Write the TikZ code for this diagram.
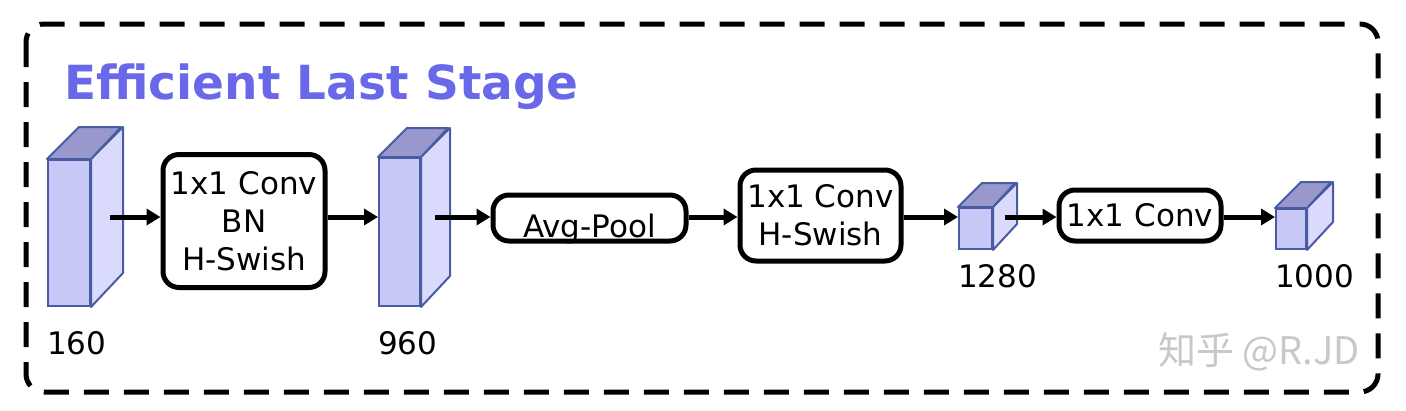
\documentclass[tikz,border=0pt]{standalone}
\usepackage{fontspec}
\setmainfont{DejaVu Sans}
\newfontfamily\cjkfont{Noto Sans CJK SC}
\usetikzlibrary{arrows.meta,positioning}

\definecolor{titleblue}{RGB}{104,104,232}
\definecolor{fmfill}{RGB}{200,200,246}
\definecolor{fmlight}{RGB}{218,218,252}
\definecolor{fmdark}{RGB}{152,152,204}
\definecolor{fmedge}{RGB}{72,92,164}
\definecolor{wmgray}{RGB}{200,200,200}

% feature map as a cuboid: name, left, top, width, height, depth
\newcommand{\fmap}[6]{%
  \node[fmfront, anchor=north west, minimum width=#4pt, minimum height=#5pt] (#1) at (#2,#3) {};
  \filldraw[fmside] (#1.north east) -- ++(#6,-#6) -- ++(0,#5) -- (#1.south east) -- cycle;
  \filldraw[fmtop] (#1.north west) -- ++(#6,-#6) -- ++(#4,0) -- (#1.north east) -- cycle;
}

\begin{document}
\begin{tikzpicture}[x=1pt, y=-1pt, font=\fontsize{31}{38}\selectfont,
  frame/.style={line width=5pt, dash pattern=on 25pt off 15pt, rounded corners=18pt},
  opbox/.style={draw, line width=5pt, rounded corners=16pt, fill=white, align=center, inner sep=0pt},
  flow/.style={line width=5pt, -{Triangle[length=14pt,width=16pt]}},
  fmfront/.style={draw=fmedge, fill=fmfill, line width=2pt, inner sep=0pt},
  fmside/.style={draw=fmedge, fill=fmlight, line width=2pt, line join=round},
  fmtop/.style={draw=fmedge, fill=fmdark, line width=2pt, line join=round},
  dimlabel/.style={anchor=base west, inner sep=0pt},
  wmark/.style={text=wmgray, font=\cjkfont\fontsize{38}{44}\selectfont, anchor=base east, inner sep=0pt}]

  % Canvas
  \useasboundingbox (0,0) rectangle (1406,410);
  \fill[white] (0,0) rectangle (1406,410);

  % Dashed frame and title
  \draw[frame] (26,24) rectangle (1378,392);
  \node[anchor=base west, inner sep=0pt, text=titleblue, font=\fontsize{47}{56}\selectfont\bfseries] (title) at (64,99) {Efficient Last Stage};

  % Feature maps
  \fmap{c160}{47}{159}{42}{146}{32}
  \fmap{c960}{378}{157}{41}{148}{29}
  \fmap{c1280}{958}{207}{33}{41}{24}
  \fmap{c1000}{1275}{208}{30}{40}{26}

  % Channel counts
  \node[dimlabel] (l160) at ([yshift=-47pt]c160.south west) {160};
  \node[dimlabel] (l960) at ([yshift=-47pt]c960.south west) {960};
  \node[dimlabel] (l1280) at ([yshift=-37pt]c1280.south west) {1280};
  \node[dimlabel] (l1000) at ([yshift=-37pt]c1000.south west) {1000};

  % Operations
  \node[opbox, minimum width=162pt, minimum height=133pt] (b1) at (244,221) {1x1 Conv\\BN\\H-Swish};
  \node[opbox, minimum width=193pt, minimum height=46pt] (pool) at (589.5,218) {\raisebox{-11pt}[\height][\depth]{Avg-Pool}};
  \node[opbox, minimum width=161pt, minimum height=91pt] (b2) at (820.5,215.5) {1x1 Conv\\H-Swish};
  \node[opbox, minimum width=162pt, minimum height=51pt] (b3) at (1140,215.5) {1x1 Conv};

  % Arrow start points inside the cuboids
  \coordinate (o160) at (110,217);
  \coordinate (o960) at (435,217);
  \coordinate (o1280) at (1005,217);

  % Data flow
  \draw[flow] (o160) -- (o160 -| b1.west);
  \draw[flow] (b1.east |- o160) -- (c960.west |- o160);
  \draw[flow] (o960) -- (o960 -| pool.west);
  \draw[flow] (pool.east |- o960) -- (b2.west |- o960);
  \draw[flow] (b2.east |- o960) -- (c1280.west |- o960);
  \draw[flow] (o1280) -- (o1280 -| b3.west);
  \draw[flow] (b3.east |- o1280) -- (c1000.west |- o1280);

  % Watermark
  \node[wmark] (wm) at (1360,364) {知乎 @R.JD};

\end{tikzpicture}
\end{document}
